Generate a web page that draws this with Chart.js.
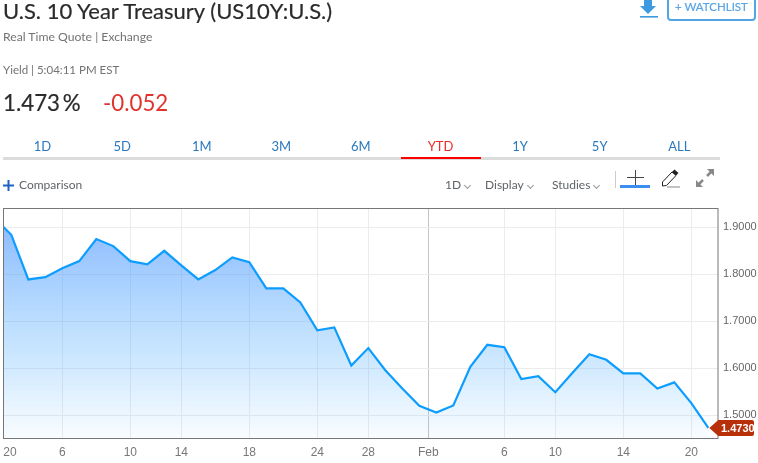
<!DOCTYPE html>
<html>
<head>
<meta charset="utf-8">
<script src="https://cdn.jsdelivr.net/npm/chart.js@4/dist/chart.umd.min.js"></script>
<style>
  html, body { margin: 0; padding: 0; background: #fff; }
  body { position: relative; width: 758px; height: 463px; overflow: hidden; font-family: Lato, sans-serif; }
  #chart { position: absolute; left: 0; top: 0; }
  .t { position: absolute; white-space: nowrap; line-height: 1; }
  .title { left: 3px; top: 0; font-size: 22px; color: #2b2b2b; -webkit-text-stroke: 0.2px #2b2b2b; }
  .sub { color: #737373; left: 3px; }
  .tab { top: 140px; width: 80px; text-align: center; font-size: 13px; color: #2a78bd; }
  .tool { top: 179px; font-size: 12px; color: #5f6468; }
  .tool i { display: inline-block; width: 4px; height: 4px; border: solid #999; border-width: 0 1px 1px 0; transform: rotate(45deg); margin-left: 4px; position: relative; top: -1px; }
  svg { position: absolute; }
</style>
</head>
<body>
<canvas id="chart" width="758" height="463"></canvas>

<div class="t title">U.S. 10 Year Treasury (US10Y:U.S.)</div>
<div class="t sub" style="top:31px;font-size:12.2px">Real Time Quote | Exchange</div>
<div class="t sub" style="top:64px;font-size:11.5px">Yield | 5:04:11 PM EST</div>
<div class="t" style="left:3px;top:92px;font-size:22.3px;color:#2b2b2b;word-spacing:-3px;-webkit-text-stroke:0.2px #2b2b2b">1.473 %</div>
<div class="t" style="left:103px;top:92px;font-size:22.3px;color:#e0332e">-0.052</div>

<svg style="left:638px;top:0" width="20" height="20" viewBox="0 0 20 20">
  <path d="M6 0h8v6h4l-8 8-8-8h4z" fill="#3f9be0"/><rect x="2" y="16" width="18" height="1.6" fill="#3f9be0"/>
</svg>
<div style="position:absolute;left:667px;top:-4px;width:85px;height:21px;border:2px solid #52a6e4;border-radius:4px"></div>
<div class="t" style="left:675px;top:1px;font-size:11.5px;color:#5aa5e6;-webkit-text-stroke:0.2px #5aa5e6">+ WATCHLIST</div>

<div id="tabs"></div>
<div style="position:absolute;left:3px;top:157px;width:717px;height:3px;background:#dcdcdc"></div>
<div style="position:absolute;left:401px;top:157px;width:80px;height:2px;background:#f00"></div>

<svg style="left:3px;top:180px" width="11" height="11"><path d="M5.500 0v11M0 5.500h11" stroke="#1f62c4" stroke-width="2"/></svg>
<div class="t tool" style="left:19px">Comparison</div>
<div class="t tool" style="left:445px">1D<i></i></div>
<div class="t tool" style="left:485px">Display<i></i></div>
<div class="t tool" style="left:552px">Studies<i></i></div>

<div style="position:absolute;left:615px;top:171px;width:1px;height:17px;background:#ccc"></div>
<svg style="left:620px;top:169px" width="31" height="20">
  <path d="M15.500 1v15M7 8.500h17" stroke="#444" stroke-width="1"/><rect x="0" y="16" width="30" height="3" fill="#3b8df0"/>
</svg>
<svg style="left:661px;top:168px" width="20" height="20">
  <path d="M1.500 14L11 4l4 3.500L5.500 17.500 1.500 18z" fill="#fff" stroke="#222" stroke-width="1"/><path d="M11 4l2.500-2.500 4 3.500-2.500 2.500z" fill="#222"/><path d="M6 19h13" stroke="#888"/>
</svg>
<svg style="left:695px;top:168px" width="20" height="20">
  <path d="M2 18L8 12M12 8L18 2" stroke="#888" stroke-width="2.500"/><path d="M1 19v-7l7 7zM19 1v7l-7-7z" fill="#888"/>
</svg>

<script>
// trading day positions: 0 is the last close of the old year, just off the left edge
const yields = [
  1.920, 1.884, 1.789, 1.794, 1.813, 1.828, 1.875, 1.860, 1.828, 1.821,
  1.850, 1.819, 1.789, 1.809, 1.836, 1.826, 1.770, 1.770, 1.740, 1.681,
  1.687, 1.606, 1.643, 1.596, 1.557, 1.520, 1.506, 1.521, 1.603, 1.650,
  1.645, 1.577, 1.583, 1.549, 1.590, 1.630, 1.618, 1.589, 1.589, 1.557,
  1.570, 1.526, 1.473
];
const xTickPos = [0.92, 4, 8, 11, 15, 19, 22, 25.53, 30, 33, 37, 41];
const xTickLabels = ['20', '6', '10', '14', '18', '24', '28', 'Feb', '6', '10', '14', '20'];
const yTickValues = [1.5, 1.6, 1.7, 1.8, 1.9];
const lastYield = 1.473;
const tabLabels = ['1D', '5D', '1M', '3M', '6M', 'YTD', '1Y', '5Y', 'ALL'];

const tabs = document.getElementById('tabs');
tabLabels.forEach((label, i) => {
  const d = document.createElement('div');
  d.className = 't tab';
  d.style.left = (2.5 + i * 79.6) + 'px';
  if (label === 'YTD') d.style.color = '#ee2a2a';
  d.textContent = label;
  tabs.appendChild(d);
});

// frame round the plot and the red last-price flag on the right axis
const framePlugin = {
  id: 'frame',
  afterDraw(chart) {
    const { ctx, chartArea: a, scales } = chart;
    ctx.save();
    ctx.strokeStyle = '#777';
    ctx.lineWidth = 1;
    ctx.strokeRect(a.left + 0.5, a.top, a.right - a.left, a.bottom - a.top);

    const y = scales.y.getPixelForValue(lastYield);
    const tip = scales.x.getPixelForValue(yields.length - 1);
    ctx.fillStyle = '#b8300a';
    ctx.beginPath();
    ctx.moveTo(tip + 1, y);
    ctx.lineTo(tip + 10, y - 8);
    ctx.lineTo(752, y - 8);
    ctx.quadraticCurveTo(754, y - 8, 754, y - 6);
    ctx.lineTo(754, y + 6);
    ctx.quadraticCurveTo(754, y + 8, 752, y + 8);
    ctx.lineTo(tip + 10, y + 8);
    ctx.closePath();
    ctx.fill();
    ctx.fillStyle = '#fff';
    ctx.font = 'bold 11px "Liberation Sans"';
    ctx.textAlign = 'left';
    ctx.textBaseline = 'middle';
    ctx.fillText(lastYield.toFixed(4), 721, y + 0.5);
    ctx.restore();
  }
};

new Chart(document.getElementById('chart'), {
  type: 'line',
  data: {
    datasets: [{
      data: yields.map((y, i) => ({ x: i, y })),
      borderColor: '#0c9dff',
      borderWidth: 2.2,
      pointRadius: 0,
      tension: 0,
      fill: 'start',
      backgroundColor: (c) => {
        const a = c.chart.chartArea;
        if (!a) return 'transparent';
        const g = c.chart.ctx.createLinearGradient(0, a.top + 18, 0, a.bottom);
        g.addColorStop(0, 'rgba(60,140,255,0.58)');
        g.addColorStop(0.65, 'rgba(70,170,255,0.26)');
        g.addColorStop(1, 'rgba(90,180,255,0.04)');
        return g;
      }
    }]
  },
  options: {
    responsive: false,
    animation: false,
    layout: { padding: { left: 3, top: 208.5, right: 0, bottom: 0 } },
    plugins: { legend: { display: false }, tooltip: { enabled: false } },
    scales: {
      x: {
        type: 'linear',
        min: 0.512,
        max: 42.54,
        afterBuildTicks: (s) => { s.ticks = xTickPos.map(value => ({ value })); },
        afterFit: (s) => { s.height = 24.5; s.paddingLeft = 0; s.paddingRight = 0; },
        grid: {
          drawTicks: false,
          color: (c) => {
            if (c.index === 0) return 'transparent';
            return c.index === 7 ? '#c4c4c4' : '#ececec';
          }
        },
        border: { display: false },
        ticks: {
          autoSkip: false,
          maxRotation: 0,
          padding: 7,
          color: '#777',
          font: { family: '"Liberation Sans"', size: 12 },
          callback: (v, i) => xTickLabels[i]
        }
      },
      y: {
        position: 'right',
        min: 1.4506,
        max: 1.94,
        afterBuildTicks: (s) => { s.ticks = yTickValues.map(value => ({ value })); },
        afterFit: (s) => { s.width = 40.5; s.paddingTop = 0; s.paddingBottom = 0; },
        grid: { drawTicks: false, color: '#ececec' },
        border: { display: false },
        ticks: {
          padding: 5.5,
          color: '#666',
          font: { family: '"Liberation Sans"', size: 11 },
          callback: (v) => v.toFixed(4)
        }
      }
    }
  },
  plugins: [framePlugin]
});
</script>
</body>
</html>
